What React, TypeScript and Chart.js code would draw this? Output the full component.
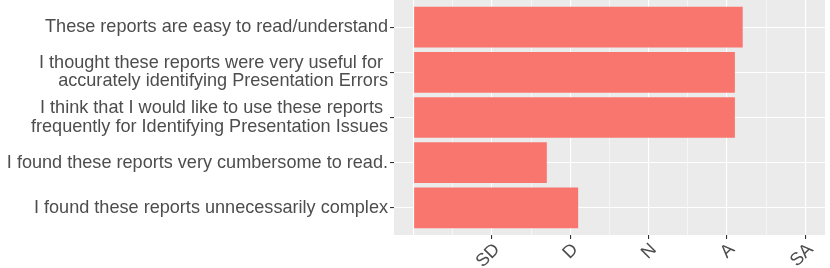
import React, { useEffect, useRef } from "react";
import { Chart, registerables } from "chart.js";

Chart.register(...registerables);

const questions: string[][] = [
  ["These reports are easy to read/understand"],
  ["I thought these reports were very useful for ", "accurately identifying Presentation Errors"],
  ["I think that I would like to use these reports ", "frequently for Identifying Presentation Issues"],
  ["I found these reports very cumbersome to read."],
  ["I found these reports unnecessarily complex"],
];
const positions = [1, 2, 3, 4, 5];
const scores = [4.2, 4.1, 4.1, 1.7, 2.1];
const scaleLabels = ["", "SD", "D", "N", "A", "SA"];
const xTickValues = [0, 0.5, 1, 1.5, 2, 2.5, 3, 3.5, 4, 4.5, 5];

const FONT = "'Liberation Sans', Arial, Helvetica, sans-serif";
const TEXT = "#4D4D4D";
const FONT_SIZE = 18.1;

const panelBg = {
  id: "panelBg",
  beforeDraw(chart: any) {
    const { ctx, chartArea } = chart;
    ctx.save();
    ctx.fillStyle = "#EBEBEB";
    ctx.fillRect(chartArea.left, chartArea.top, chartArea.right - chartArea.left, chartArea.bottom - chartArea.top);
    ctx.restore();
  },
};

export default function App() {
  const ref = useRef<HTMLCanvasElement | null>(null);
  useEffect(() => {
    document.body.style.margin = "0";
    const canvas = ref.current;
    if (!canvas) return;
    const chart = new Chart(canvas, {
      type: "bar",
      data: {
        datasets: [
          {
            data: positions.map((p, i) => ({ x: scores[i], y: p })),
            backgroundColor: "#F8766D",
            borderWidth: 0,
            barPercentage: 0.9,
            categoryPercentage: 1,
          },
        ],
      },
      options: {
        indexAxis: "y",
        animation: false,
        responsive: false,
        devicePixelRatio: 1,
        layout: { padding: { left: 0, right: 5, top: 0, bottom: 0 } },
        plugins: { legend: { display: false }, tooltip: { enabled: false } },
        scales: {
          x: {
            type: "linear",
            min: -0.25,
            max: 5.25,
            offset: false,
            afterBuildTicks: (scale: any) => {
              scale.ticks = xTickValues.map((v) => ({ value: v }));
            },
            afterFit: (scale: any) => {
              scale.height = 33;
              scale.paddingLeft = 0;
              scale.paddingRight = 0;
            },
            border: { display: false },
            grid: {
              offset: false,
              color: "#FFFFFF",
              lineWidth: (c: any) => (Number.isInteger(c.tick?.value) ? 1.1 : 0.55),
              tickLength: 4,
              tickWidth: 1.1,
              tickColor: (c: any) => {
                const v = c.tick?.value;
                return Number.isInteger(v) && v > 0 ? "#333333" : "rgba(0,0,0,0)";
              },
            },
            ticks: {
              autoSkip: false,
              minRotation: 45,
              maxRotation: 45,
              padding: 0,
              labelOffset: 5,
              color: TEXT,
              font: { family: FONT, size: FONT_SIZE },
              callback: (v: any) => (Number.isInteger(v) ? scaleLabels[v] : ""),
            },
          },
          y: {
            type: "linear",
            min: 0.4,
            max: 5.6,
            reverse: true,
            offset: false,
            afterBuildTicks: (scale: any) => {
              scale.ticks = positions.map((v) => ({ value: v }));
            },
            afterFit: (scale: any) => {
              scale.width = 394;
              scale.paddingTop = 0;
              scale.paddingBottom = 0;
            },
            border: { display: false },
            grid: {
              offset: false,
              color: "#FFFFFF",
              lineWidth: 1.1,
              tickLength: 4,
              tickWidth: 1.1,
              tickColor: "#333333",
            },
            ticks: {
              autoSkip: false,
              padding: 2,
              color: TEXT,
              font: { family: FONT, size: FONT_SIZE, lineHeight: 1.01 },
              callback: (v: any) => questions[v - 1] ?? "",
            },
          },
        },
      },
      plugins: [panelBg],
    });
    return () => chart.destroy();
  }, []);
  return (
    <div style={{ width: 830, height: 268 }}>
      <canvas ref={ref} width={830} height={268} style={{ display: "block" }} />
    </div>
  );
}
